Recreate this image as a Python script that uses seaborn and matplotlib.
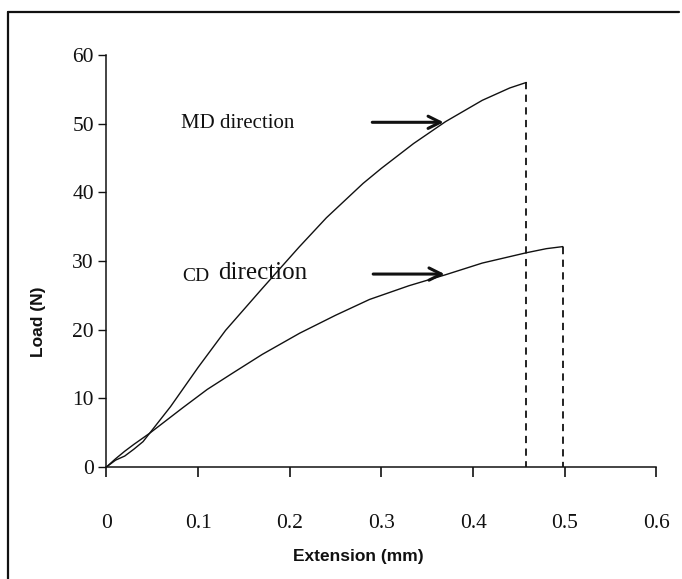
import matplotlib
matplotlib.use("Agg")
import matplotlib.pyplot as plt
import seaborn as sns
import pandas as pd
from matplotlib.lines import Line2D

# ---- data ----
md_x = [0, 0.01, 0.02, 0.03, 0.04, 0.07, 0.10, 0.13, 0.17, 0.21, 0.24, 0.28, 0.30, 0.335, 0.37, 0.41, 0.44, 0.458]
md_y = [0, 1.0, 1.6, 2.6, 3.7, 8.8, 14.5, 19.9, 26.0, 32.0, 36.3, 41.3, 43.5, 47.1, 50.3, 53.4, 55.2, 56.0]
cd_x = [0, 0.01, 0.02, 0.03, 0.047, 0.083, 0.11, 0.138, 0.17, 0.211, 0.25, 0.287, 0.33, 0.37, 0.41, 0.458, 0.48, 0.498]
cd_y = [0, 1.2, 2.3, 3.3, 4.9, 8.6, 11.3, 13.7, 16.4, 19.5, 22.1, 24.4, 26.4, 28.0, 29.7, 31.2, 31.8, 32.1]
x_ticks = [0, 0.1, 0.2, 0.3, 0.4, 0.5, 0.6]
x_tick_labels = ["0", "0.1", "0.2", "0.3", "0.4", "0.5", "0.6"]
y_ticks = [0, 10, 20, 30, 40, 50, 60]
y_tick_labels = ["0", "10", "20", "30", "40", "50", "60"]
md_label = "MD direction"
cd_label_a = "CD"
cd_label_b = "direction"

sns.set_style("ticks")
plt.rcParams['font.family'] = ['Liberation Serif', 'DejaVu Serif']

fig = plt.figure(figsize=(6.82, 5.79), dpi=100)
ax = fig.add_axes([0.156, 0.1934, 0.8065, 0.7116])

df = pd.concat([
    pd.DataFrame({"x": md_x, "y": md_y, "dir": "MD"}),
    pd.DataFrame({"x": cd_x, "y": cd_y, "dir": "CD"}),
])
sns.lineplot(data=df, x="x", y="y", hue="dir", palette={"MD": "#111111", "CD": "#111111"},
             linewidth=1.0, legend=False, ax=ax, sort=False, estimator=None)

# dashed drop lines at the failure points
ax.plot([md_x[-1], md_x[-1]], [md_y[-1], 0], ls=(0, (4, 3)), color="#111111", lw=1.3)
ax.plot([cd_x[-1], cd_x[-1]], [cd_y[-1], 0], ls=(0, (4, 3)), color="#111111", lw=1.3)

ax.set_xlim(0, 0.6)
ax.set_ylim(0, 60)
ax.set_xticks(x_ticks)
ax.set_xticklabels(x_tick_labels)
ax.set_yticks(y_ticks)
ax.set_yticklabels(y_tick_labels)
ax.tick_params(axis="x", direction="out", length=7, width=1.2, pad=27, labelsize=15.5, colors="#111111")
ax.tick_params(axis="y", direction="out", length=6, width=1.0, pad=3, labelsize=15.5, colors="#111111")
for s in ["top", "right"]:
    ax.spines[s].set_visible(False)
for s in ["left", "bottom"]:
    ax.spines[s].set_color("#111111")
    ax.spines[s].set_linewidth(1.1)
ax.set_xlabel("")
ax.set_ylabel("")

# annotations
ax.text(0.081, 50.0, md_label, fontsize=15, va="center", ha="left", color="#111111")
ax.text(0.083, 27.8, cd_label_a, fontsize=14, va="center", ha="left", color="#111111")
ax.text(0.122, 28.2, cd_label_b, fontsize=18, va="center", ha="left", color="#111111")
ax.annotate("", xy=(0.371, 50.2), xytext=(0.287, 50.2),
            arrowprops=dict(arrowstyle="->", lw=2.2, color="#111111", mutation_scale=22))
ax.annotate("", xy=(0.372, 28.1), xytext=(0.288, 28.1),
            arrowprops=dict(arrowstyle="->", lw=2.2, color="#111111", mutation_scale=22))

# axis titles (sans bold)
fig.text(0.057, 0.444, "Load (N)", rotation=90, ha="center", va="center",
         fontsize=12.5, fontweight="bold", family=["Liberation Sans", "DejaVu Sans"], color="#111111")
fig.text(0.525, 0.038, "Extension (mm)", ha="center", va="center",
         fontsize=12.5, fontweight="bold", family=["Liberation Sans", "DejaVu Sans"], color="#111111")

# scanned frame (top and left edges)
fig.add_artist(Line2D([0.011, 0.995], [0.979, 0.979], transform=fig.transFigure, color="#111111", lw=1.6))
fig.add_artist(Line2D([0.012, 0.012], [0.0, 0.979], transform=fig.transFigure, color="#111111", lw=1.6))

fig.savefig("out.png", dpi=100)
